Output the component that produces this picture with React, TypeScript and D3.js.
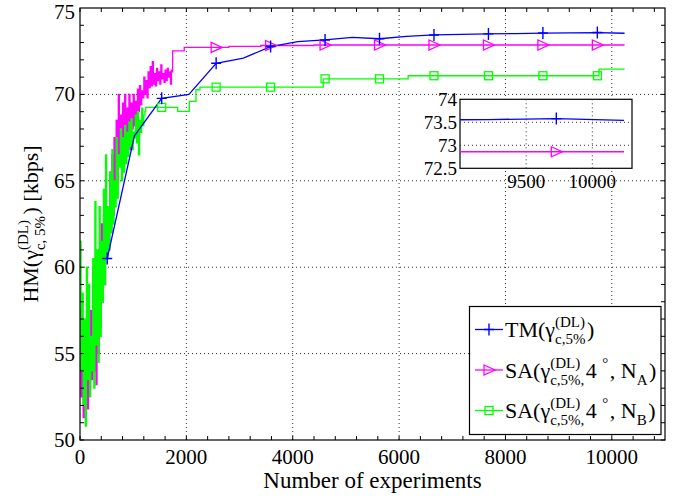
import React from "react";
import * as d3 from "d3";

// experiment counts where the TM curve was evaluated
const tmX = [512, 1024, 1536, 2048, 2560, 3072, 3584, 4096, 4608, 5120, 5632, 6144, 6656, 7168, 7680, 8192, 8704, 9216, 9728, 10240];
const tmY = [60.5, 67.6, 69.77, 70.0, 71.8, 72.1, 72.77, 73.05, 73.15, 73.3, 73.22, 73.36, 73.44, 73.47, 73.5, 73.52, 73.55, 73.56, 73.58, 73.54];

// SA curves: noisy start sampled every noiseStep experiments, then level changes
const noiseStep = 20;
const saANoise = [
  57.5, 52.5, 55, 51.3, 54, 52, 56.5, 51.8, 55.5, 53, 57.5,
  53.5, 60, 54, 58, 53.2, 59.5, 55, 61, 56.5, 62.5,
  58, 63, 59, 64.5, 60.5, 63.5, 61, 65.5, 62, 66.5,
  63, 67.5, 64, 68.5, 65, 70, 66, 68.8, 65.5, 69.5,
  66.5, 70, 67, 69.2, 67.8, 70, 66.8, 69.5, 68, 70,
  68.2, 69.6, 68.8, 70.3, 69, 70.5, 69.4, 70.2, 69.8, 71,
  70, 70.8, 69.8, 71.3, 70.4, 71.6, 70.5, 71.9, 70.6, 71.2,
  70.5, 71.5, 70.8, 71.3, 70.6, 71.7, 70.9, 71.2, 70.7, 71.4,
  70.8, 71.5, 71, 71.3, 70.6, 71.4, 71.3
];
const saASteps: [number, number][] = [[1742, 72.52], [1960, 72.72], [2800, 72.78], [3400, 72.83], [4400, 72.86], [10240, 72.86]];
const saAMarkX = [2560, 3584, 4608, 5632, 6656, 7680, 8704, 9728];

const saBNoise = [
  61.5, 54, 58.5, 52, 57, 50.8, 60, 53.5, 59, 52.5, 56,
  54, 60.5, 53, 63.8, 55.5, 61, 54.5, 63.5, 56, 61.5,
  58, 64.5, 59, 66.5, 60.5, 63.5, 61, 65.5, 62, 66.8,
  62.5, 65, 63.5, 67.5, 64, 66.5, 65.8, 68, 65, 67.5,
  65.5, 68.2, 66, 67.8, 66.4, 68.4, 67, 68.6, 66.8, 67.8,
  67.5, 68.8, 67.2, 69, 66.5, 68.5, 67.8, 69.2, 68.2, 68.8, 69
];
const saBSteps: [number, number][] = [[1235, 69.25], [1836, 69.02], [2055, 69.6], [2180, 70.27], [2256, 70.42], [4573, 70.9], [6170, 71.08], [9760, 71.46], [10240, 71.46]];
const saBMarkX = [1536, 2560, 3584, 4608, 5632, 6656, 7680, 8704, 9728];

const insetXTicks = [9500, 10000];
const insetYTicks = [72.5, 73, 73.5, 74];
const insetMarkX = 9728;

const BLUE = "#0000ff";
const MAGENTA = "#ff00ff";
const GREEN = "#00ff00";
const FONT = "'Liberation Serif', 'Times New Roman', serif";

const W = 678, H = 499;
const margin = { top: 8, right: 13, bottom: 59, left: 80 };

let ctx: CanvasRenderingContext2D | null = null;
function measure(t: string, size: number) {
  if (!ctx) ctx = document.createElement("canvas").getContext("2d");
  if (!ctx) return t.length * size * 0.5;
  ctx.font = `${size}px "Liberation Serif"`;
  return ctx.measureText(t).width;
}

type Seg = { n?: string; sup?: string; sub?: string };

// draws text with super/subscripts; stacked when both sup and sub are given
function Rich({ segs, size, small, anchor = "start" }: { segs: Seg[]; size: number; small: number; anchor?: string }) {
  const items: React.ReactNode[] = [];
  let x = 0;
  segs.forEach((s, i) => {
    if (s.n !== undefined) {
      items.push(<text key={i} x={x} y={0} fontSize={size}>{s.n}</text>);
      x += measure(s.n, size);
    } else {
      let w = 0;
      if (s.sup) {
        items.push(<text key={i + "p"} x={x} y={-size * 0.45} fontSize={small}>{s.sup}</text>);
        w = Math.max(w, measure(s.sup, small));
      }
      if (s.sub) {
        items.push(<text key={i + "b"} x={x} y={size * 0.32} fontSize={small}>{s.sub}</text>);
        w = Math.max(w, measure(s.sub, small));
      }
      x += w + 1.5;
    }
  });
  const shift = anchor === "middle" ? -x / 2 : 0;
  return <g transform={`translate(${shift},0)`} fontFamily={FONT}>{items}</g>;
}

function Marker({ kind, cx, cy, color }: { kind: string; cx: number; cy: number; color: string }) {
  if (kind === "plus")
    return <path d={`M${cx - 5},${cy}H${cx + 5}M${cx},${cy - 6}V${cy + 6}`} stroke={color} strokeWidth={1.4} fill="none" />;
  if (kind === "tri")
    return <path d={`M${cx - 5},${cy - 5}L${cx + 6},${cy}L${cx - 5},${cy + 5}Z`} stroke={color} strokeWidth={1.3} fill="none" />;
  return <rect x={cx - 4} y={cy - 4} width={8} height={8} stroke={color} strokeWidth={1.3} fill="none" />;
}

function levelAt(steps: [number, number][], x: number) {
  let v = steps[0][1];
  steps.forEach(([sx, sy]) => { if (sx <= x) v = sy; });
  return v;
}

export default function App() {
  const x = d3.scaleLinear().domain([0, 11000]).range([margin.left, W - margin.right]);
  const y = d3.scaleLinear().domain([50, 75]).range([H - margin.bottom, margin.top]);
  const [x0, x1] = x.range();
  const [y0, y1] = y.range();

  const tmData: [number, number][] = tmX.map((v, i) => [v, tmY[i]]);
  const saAData: [number, number][] = saANoise.map((v, i) => [i * noiseStep, v] as [number, number]).concat(saASteps);
  const saBData: [number, number][] = saBNoise.map((v, i) => [i * noiseStep, v] as [number, number]).concat(saBSteps);

  const lineLin = d3.line<[number, number]>().x(d => x(d[0])).y(d => y(d[1]));
  const lineStep = d3.line<[number, number]>().x(d => x(d[0])).y(d => y(d[1])).curve(d3.curveStepAfter);

  const xMajor = x.ticks(6);
  const xMinor = d3.range(0, 11000, 400);
  const yMajor = y.ticks(5);
  const yMinor = d3.range(50, 75, 1);

  // inset
  const xi = d3.scaleLinear().domain([9000, 10300]).range([460, 632]);
  const yi = d3.scaleLinear().domain([72.5, 74]).range([168.3, 99.3]);
  const lineLinI = d3.line<[number, number]>().x(d => xi(d[0])).y(d => yi(d[1]));
  const lineStepI = d3.line<[number, number]>().x(d => xi(d[0])).y(d => yi(d[1])).curve(d3.curveStepAfter);

  const tick = 4;
  const grid = { stroke: "#333", strokeWidth: 1, strokeDasharray: "1 3" };

  const legend = [
    { color: BLUE, kind: "plus", segs: [{ n: "TM(γ" }, { sup: "(DL)", sub: "c,5%" }, { n: ")" }] },
    { color: MAGENTA, kind: "tri", segs: [{ n: "SA(γ" }, { sup: "(DL)", sub: "c,5%," }, { n: " 4" }, { sup: "°" }, { n: ", N" }, { sub: "A" }, { n: ")" }] },
    { color: GREEN, kind: "sq", segs: [{ n: "SA(γ" }, { sup: "(DL)", sub: "c,5%," }, { n: " 4" }, { sup: "°" }, { n: ", N" }, { sub: "B" }, { n: ")" }] },
  ];

  return (
    <svg width={W} height={H} style={{ position: "absolute", left: 0, top: 0, background: "#fff" }}>
      <defs>
        <clipPath id="plotClip"><rect x={x0} y={y1} width={x1 - x0} height={y0 - y1} /></clipPath>
        <clipPath id="insetClip"><rect x={xi(9000)} y={yi(74)} width={xi(10300) - xi(9000)} height={yi(72.5) - yi(74)} /></clipPath>
      </defs>

      {/* grid */}
      {xMajor.filter(t => t > 0).map(t => <line key={"gx" + t} x1={x(t)} x2={x(t)} y1={y0} y2={y1} {...grid} />)}
      {yMajor.filter(t => t > 50 && t < 75).map(t => <line key={"gy" + t} x1={x0} x2={x1} y1={y(t)} y2={y(t)} {...grid} />)}

      {/* series */}
      <g clipPath="url(#plotClip)" fill="none">
        <path d={lineStep(saAData) || ""} stroke={MAGENTA} strokeWidth={1.3} />
        <path d={lineStep(saBData) || ""} stroke={GREEN} strokeWidth={1.3} />
        <path d={lineLin(tmData) || ""} stroke={BLUE} strokeWidth={1.3} />
      </g>
      {saAMarkX.map(v => <Marker key={"ma" + v} kind="tri" cx={x(v)} cy={y(levelAt(saASteps, v))} color={MAGENTA} />)}
      {saBMarkX.map(v => <Marker key={"mb" + v} kind="sq" cx={x(v)} cy={y(levelAt(saBSteps, v))} color={GREEN} />)}
      {tmData.filter((_, i) => i % 2 === 0).map(d => <Marker key={"mt" + d[0]} kind="plus" cx={x(d[0])} cy={y(d[1])} color={BLUE} />)}

      {/* axes box and inward ticks */}
      <rect x={x0} y={y1} width={x1 - x0} height={y0 - y1} fill="none" stroke="#000" strokeWidth={1.2} />
      {xMinor.map(t => (
        <g key={"tx" + t} stroke="#000">
          <line x1={x(t)} x2={x(t)} y1={y0} y2={y0 - tick} />
          <line x1={x(t)} x2={x(t)} y1={y1} y2={y1 + tick} />
        </g>
      ))}
      {yMinor.map(t => (
        <g key={"ty" + t} stroke="#000">
          <line x1={x0} x2={x0 + tick} y1={y(t)} y2={y(t)} />
          <line x1={x1} x2={x1 - tick} y1={y(t)} y2={y(t)} />
        </g>
      ))}
      <g fontFamily={FONT} fontSize={21} fill="#000">
        {xMajor.map(t => <text key={"lx" + t} x={x(t)} y={y0 + 23.5} textAnchor="middle">{t}</text>)}
        {yMajor.map(t => <text key={"ly" + t} x={x0 - 5} y={Math.max(y(t) + 7, 19)} textAnchor="end">{t}</text>)}
        <text x={(x0 + x1) / 2} y={488} textAnchor="middle" fontSize={23}>Number of experiments</text>
      </g>
      <g transform={`translate(38,${(y0 + y1) / 2}) rotate(-90)`}>
        <Rich segs={[{ n: "HM(γ" }, { sup: "(DL)", sub: "c, 5%" }, { n: ") [kbps]" }]} size={22} small={15} anchor="middle" />
      </g>

      {/* inset */}
      <rect x={xi(9000)} y={yi(74)} width={xi(10300) - xi(9000)} height={yi(72.5) - yi(74)} fill="#fff" stroke="#000" strokeWidth={1.2} />
      {insetXTicks.map(t => <line key={"igx" + t} x1={xi(t)} x2={xi(t)} y1={yi(72.5)} y2={yi(74)} {...grid} />)}
      {[73, 73.5].map(t => <line key={"igy" + t} x1={xi(9000)} x2={xi(10300)} y1={yi(t)} y2={yi(t)} {...grid} />)}
      <g clipPath="url(#insetClip)" fill="none">
        <path d={lineStepI(saAData) || ""} stroke={MAGENTA} strokeWidth={1.3} />
        <path d={lineLinI(tmData) || ""} stroke={BLUE} strokeWidth={1.3} />
      </g>
      <Marker kind="tri" cx={xi(insetMarkX)} cy={yi(levelAt(saASteps, insetMarkX))} color={MAGENTA} />
      <Marker kind="plus" cx={xi(insetMarkX)} cy={yi(tmY[tmX.indexOf(insetMarkX)])} color={BLUE} />
      <g fontFamily={FONT} fontSize={19} fill="#000">
        {insetXTicks.map(t => <text key={"ilx" + t} x={xi(t)} y={188} textAnchor="middle">{t}</text>)}
        {insetYTicks.map(t => <text key={"ily" + t} x={xi(9000) - 3} y={yi(t) + 6.5} textAnchor="end">{t}</text>)}
      </g>

      {/* legend */}
      <rect x={469.5} y={306.5} width={191.5} height={128} fill="#fff" stroke="#000" strokeWidth={1.2} />
      {legend.map((l, i) => {
        const by = 337 + i * 40.5;
        return (
          <g key={"lg" + i}>
            <line x1={475} x2={503} y1={by - 7.5} y2={by - 7.5} stroke={l.color} strokeWidth={1.3} />
            <Marker kind={l.kind} cx={489} cy={by - 7.5} color={l.color} />
            <g transform={`translate(505,${by})`}>
              <Rich segs={l.segs} size={22} small={15} />
            </g>
          </g>
        );
      })}
    </svg>
  );
}
